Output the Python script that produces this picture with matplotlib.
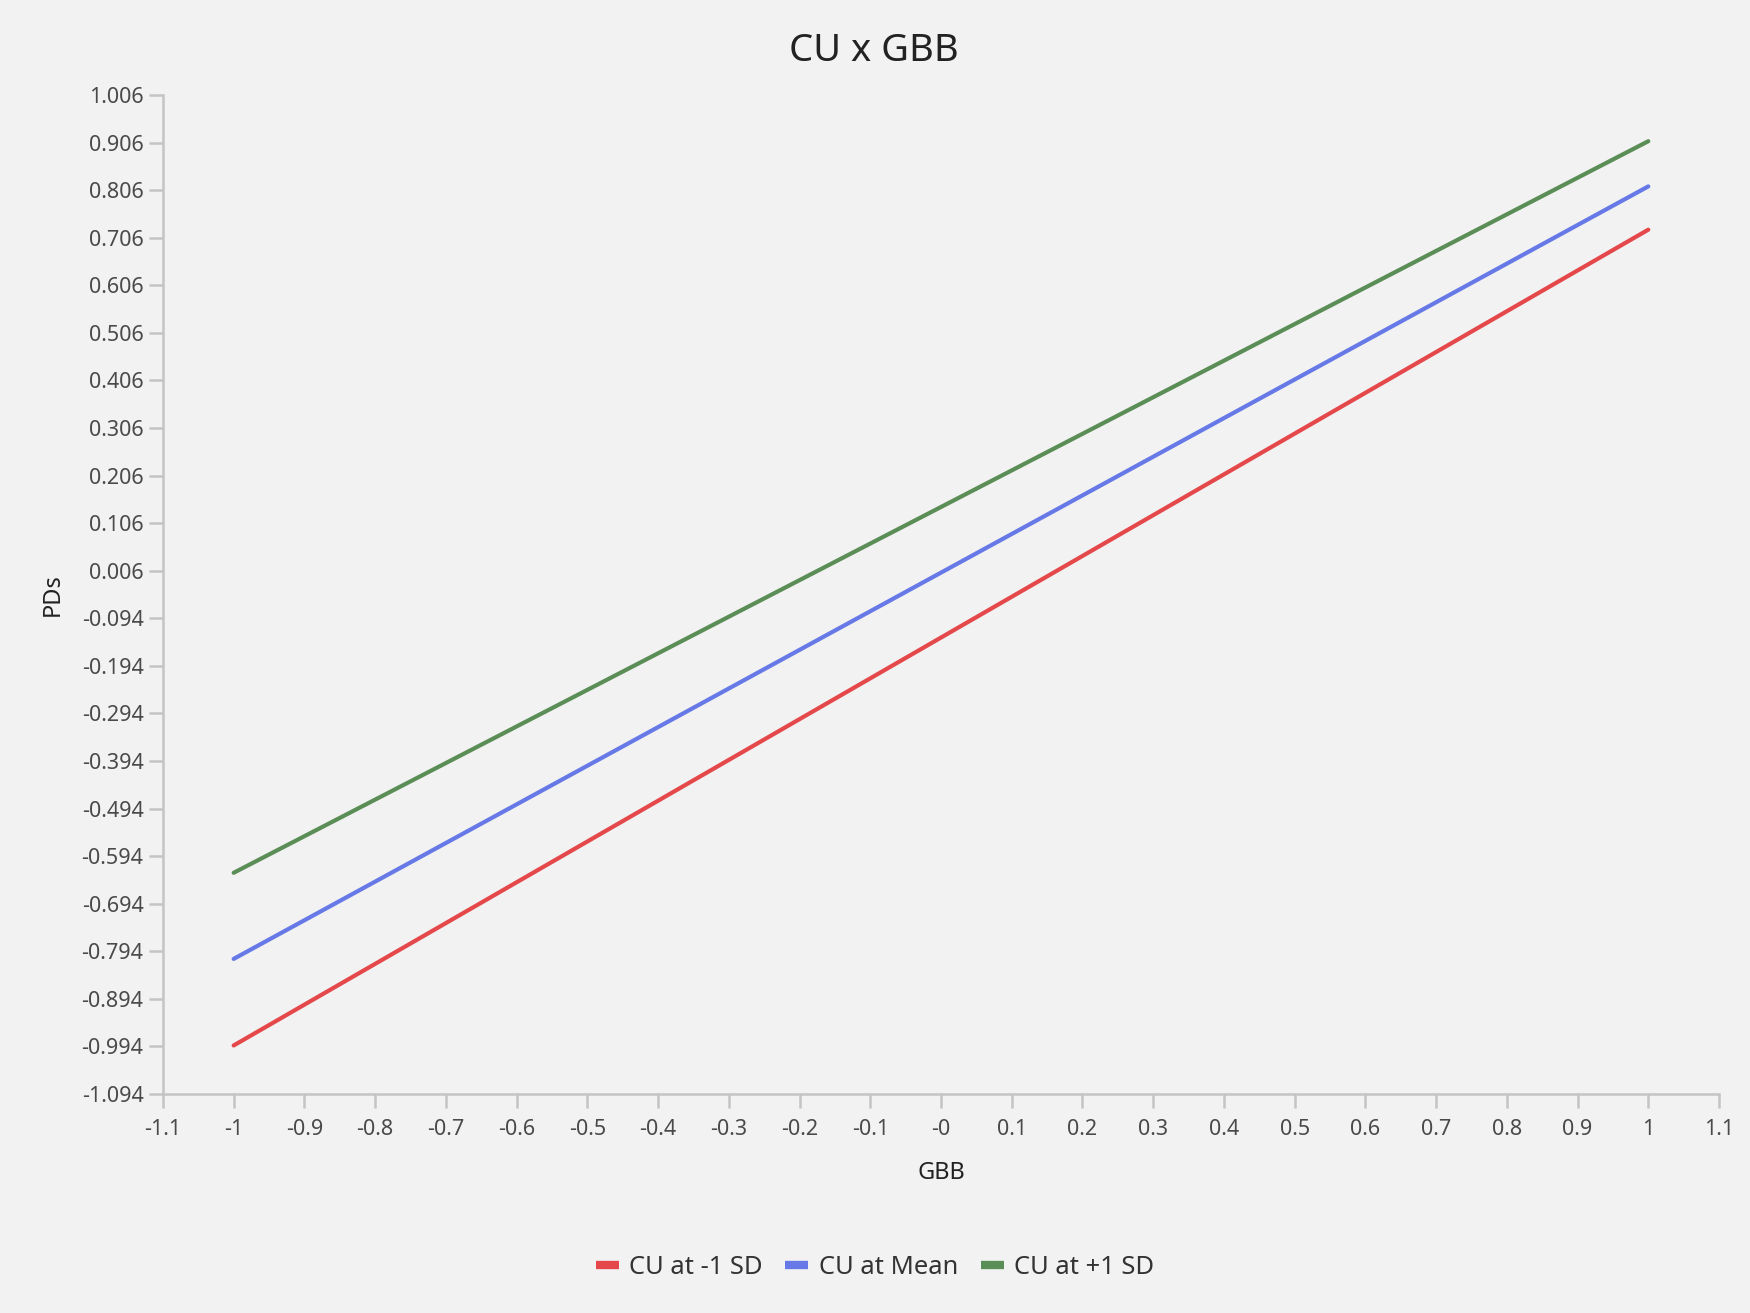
import numpy as np
import matplotlib
matplotlib.use('Agg')
import matplotlib.pyplot as plt

plt.rcParams['font.family'] = ['Noto Sans', 'DejaVu Sans']

# endpoints of the three simple slopes (GBB = -1 and GBB = 1)
gbb = [-1, 1]
cu_low = [-0.992, 0.723]
cu_mean = [-0.810, 0.814]
cu_high = [-0.629, 0.909]

series_names = ['CU at -1 SD', 'CU at Mean', 'CU at +1 SD']
series_colors = ['#e5484a', '#6679e6', '#5b8e56']

x_ticks = [-1.1, -1.0, -0.9, -0.8, -0.7, -0.6, -0.5, -0.4, -0.3, -0.2, -0.1, 0.0,
           0.1, 0.2, 0.3, 0.4, 0.5, 0.6, 0.7, 0.8, 0.9, 1.0, 1.1]
x_tick_labels = ['-1.1', '-1', '-0.9', '-0.8', '-0.7', '-0.6', '-0.5', '-0.4', '-0.3', '-0.2', '-0.1', '-0',
                 '0.1', '0.2', '0.3', '0.4', '0.5', '0.6', '0.7', '0.8', '0.9', '1', '1.1']
y_ticks = [1.006, 0.906, 0.806, 0.706, 0.606, 0.506, 0.406, 0.306, 0.206, 0.106, 0.006,
           -0.094, -0.194, -0.294, -0.394, -0.494, -0.594, -0.694, -0.794, -0.894, -0.994, -1.094]

bg = '#f2f2f2'
axis_grey = '#c4c4c4'
text_grey = '#4a4a4a'

fig = plt.figure(figsize=(17.5, 13.13), dpi=100, facecolor=bg)
ax = fig.add_axes([0.0931, 0.1668, 0.8892, 0.7608], facecolor=bg)

for vals, name, col in zip([cu_low, cu_mean, cu_high], series_names, series_colors):
    ax.plot(gbb, vals, color=col, lw=3, label=name, solid_capstyle='round')

ax.set_xlim(-1.1, 1.1)
ax.set_ylim(-1.094, 1.006)
ax.set_xticks(x_ticks)
ax.set_xticklabels(x_tick_labels)
ax.set_yticks(y_ticks)
ax.set_yticklabels(['%.3f' % v for v in y_ticks])

for s in ['top', 'right']:
    ax.spines[s].set_visible(False)
for s in ['left', 'bottom']:
    ax.spines[s].set_color(axis_grey)
    ax.spines[s].set_linewidth(1.8)
ax.tick_params(axis='both', colors=axis_grey, width=1.8, length=10, labelsize=15.5,
               labelcolor=text_grey)
ax.tick_params(axis='x', pad=8)
ax.tick_params(axis='y', pad=4)

fig.suptitle('CU x GBB', fontsize=27.5, color='#222222', x=0.4994, y=0.961, va='center')
ax.set_xlabel('GBB', fontsize=17, color='#222222', labelpad=15)
ax.set_ylabel('PDs', fontsize=17, color='#222222', labelpad=12)

leg = fig.legend(loc='center', bbox_to_anchor=(0.5, 0.035), ncol=3, frameon=False,
                 fontsize=18.4, handlelength=0.9, handletextpad=0.4, columnspacing=0.9,
                 labelcolor='#333333')
for line in leg.get_lines():
    line.set_linewidth(6)
    line.set_solid_capstyle('butt')

fig.savefig('out.png', dpi=100, facecolor=bg)
